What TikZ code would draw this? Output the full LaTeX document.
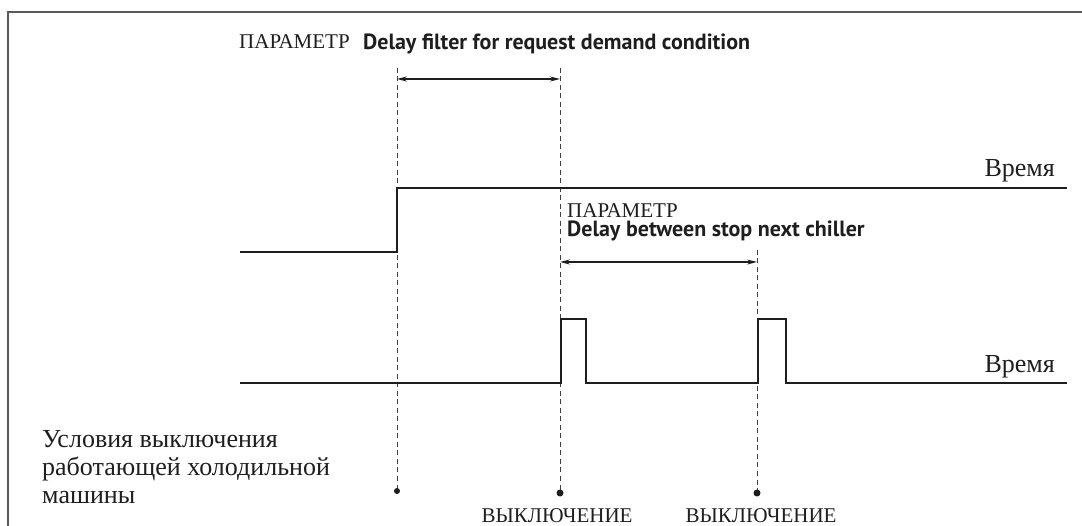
\documentclass[tikz,border=0pt]{standalone}
\usepackage{fontspec}
\setmainfont{Liberation Serif}
\newfontfamily\dinfont{PT Sans}
\usetikzlibrary{arrows.meta}
\definecolor{ink}{HTML}{1E1E1E}
\begin{document}
\begin{tikzpicture}[x=1pt,y=-1pt,
  every node/.style={inner sep=0pt, text=ink},
  sig/.style={line width=2.6pt, draw=ink, line join=miter},
  guide/.style={draw=ink!85, line width=0.9pt, dash pattern=on 5pt off 3.5pt},
  dim/.style={draw=ink, line width=1.1pt, {Stealth[length=10pt,width=5pt]}-{Stealth[length=10pt,width=5pt]}},
  frameline/.style={draw=black!65, line width=1.6pt},
  captxt/.style={font=\fontsize{21}{24}\selectfont},
  dintxt/.style={font=\dinfont\bfseries\fontsize{22}{24}\selectfont},
  sertxt/.style={font=\fontsize{26}{27.5}\selectfont},
  dotmark/.style={fill=ink}]
\useasboundingbox (0,0) rectangle (1082,526);
% frame
\coordinate (fbl) at (8,526);
\coordinate (ftl) at (8,12);
\coordinate (ftr) at (1082,12);
\draw[frameline] (fbl) -- (ftl) -- (ftr);
% guide lines
\coordinate (g1t) at (397,68);
\coordinate (g1b) at (397,491);
\coordinate (g2t) at (560,68);
\coordinate (g2b) at (560,493);
\coordinate (g3t) at (757,250);
\coordinate (g3b) at (757,493);
\draw[guide] (g1t) -- (g1b);
\draw[guide] (g2t) -- (g2b);
\draw[guide] (g3t) -- (g3b);
\fill[dotmark] (g1b) circle (3pt);
\fill[dotmark] (g2b) circle (3.5pt);
\fill[dotmark] (g3b) circle (3.5pt);
% dimension arrows
\coordinate (a1l) at (397,79);
\coordinate (a1r) at (560,79);
\draw[dim] (a1l) -- (a1r);
\coordinate (a2l) at (560,262);
\coordinate (a2r) at (757,262);
\draw[dim] (a2l) -- (a2r);
% signal 1
\coordinate (s1a) at (240,252);
\coordinate (s1b) at (397,252);
\coordinate (s1c) at (397,188);
\coordinate (s1d) at (1067,188);
\draw[sig] (s1a) -- (s1b) -- (s1c) -- (s1d);
% signal 2
\coordinate (s2a) at (240,383);
\coordinate (s2e) at (1067,383);
\draw[sig] (s2a) -- (561,383) -- (561,319) -- (586,319) -- (586,383)
  -- (758,383) -- (758,319) -- (786,319) -- (786,383) -- (s2e);
% labels
\node[captxt, anchor=base west] (p1) at (239,49) {ПАРАМЕТР};
\node[dintxt, anchor=base west] (d1) at (363,50) {Delay filter for request demand condition};
\node[captxt, anchor=base west] (p2) at (567,218) {ПАРАМЕТР};
\node[dintxt, anchor=base west] (d2) at (567,237) {Delay between stop next chiller};
\node[sertxt, anchor=base east] (t1) at (1055,177) {Время};
\node[sertxt, anchor=base east] (t2) at (1055,373) {Время};
\node[captxt, anchor=base] (v1) at (557,522) {ВЫКЛЮЧЕНИЕ};
\node[captxt, anchor=base] (v2) at (761,522) {ВЫКЛЮЧЕНИЕ};
\node[sertxt, anchor=base west, align=left] (cond) at (42,503)
  {Условия выключения\\работающей холодильной\\машины};
\end{tikzpicture}
\end{document}
